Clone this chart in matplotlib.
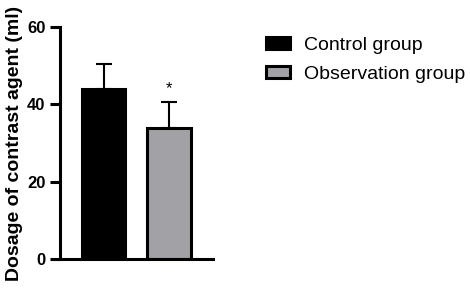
import matplotlib.pyplot as plt
from matplotlib.patches import Patch

plt.rcParams['font.family'] = ['Liberation Sans', 'DejaVu Sans']

groups = ['Control group', 'Observation group']
means = [43.9, 33.9]
sds = [6.5, 6.7]
colors = ['#000000', '#a2a2a6']

fig = plt.figure(figsize=(4.7, 2.95), dpi=100)
ax = fig.add_axes([0.128, 0.122, 0.325, 0.786])

x = [0, 1]
ax.bar(x, means, width=0.66, color=colors, edgecolor='black', linewidth=2.2, zorder=2)
ax.errorbar(x, means, yerr=[[0, 0], sds], fmt='none', ecolor='black',
            elinewidth=1.5, capsize=6, capthick=1.5, zorder=1)
ax.text(1, means[1] + sds[1] + 3.5, '*', ha='center', va='center', fontsize=12)

ax.set_xlim(-0.665, 1.67)
ax.set_ylim(0, 60)
ax.set_yticks([0, 20, 40, 60])
ax.set_xticks([])
for s in ['top', 'right']:
    ax.spines[s].set_visible(False)
ax.spines['left'].set_linewidth(2.2)
ax.spines['bottom'].set_linewidth(2.2)
ax.tick_params(axis='y', width=2.2, length=7.5, labelsize=12, pad=3)
for lab in ax.get_yticklabels():
    lab.set_fontweight('bold')
ax.set_ylabel('Dosage of contrast agent (ml)', fontsize=14, fontweight='bold', labelpad=3)

handles = [Patch(facecolor=c, edgecolor='black', linewidth=2.2) for c in colors]
fig.legend(handles, groups, loc='upper left', bbox_to_anchor=(0.566, 0.875),
           frameon=False, fontsize=14, handlelength=1.25, handleheight=0.55,
           handletextpad=0.72, labelspacing=0.6, borderpad=0, borderaxespad=0)

fig.savefig('out.png', dpi=100)
